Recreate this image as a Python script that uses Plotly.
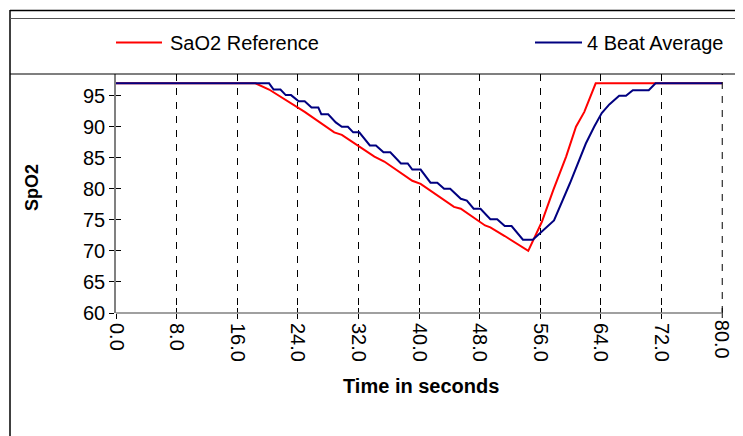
import plotly.graph_objects as go

# ---- data ----
ref_time = [0, 18.4, 20.2, 24.1, 24.9, 28.8, 29.8, 34.1, 35.4, 39.1, 40.2, 44.6, 45.5,
            48.7, 49.4, 51.3, 54.4, 56.2, 57.7, 59.4, 60.7, 61.8, 63.3, 80]
ref_spo2 = [97, 97, 96.0, 93.0, 92.4, 89.1, 88.7, 85.2, 84.4, 81.3, 80.8, 77.1, 76.8,
            74.1, 73.8, 72.4, 70.0, 74.7, 79.8, 85.2, 90.0, 92.4, 97, 97]

avg_time = [0, 20.2, 20.8, 21.7, 22.4, 23.1, 24.1, 24.9, 25.8, 26.7, 27.1, 28.0, 29.0,
            29.8, 30.6, 31.3, 32.1, 33.5, 34.3, 35.3, 36.2, 37.6, 38.5, 39.1, 40.2, 41.5,
            42.4, 43.3, 44.1, 45.5, 46.3, 47.2, 48.1, 49.4, 50.3, 51.3, 52.2, 53.7, 55.0,
            56.4, 57.8, 59.9, 62.0, 63.1, 64.1, 65.1, 66.4, 67.3, 68.2, 70.3, 71.2, 80]
avg_spo2 = [97, 97, 96, 96, 95.1, 95.1, 94.1, 94.1, 93.1, 93.1, 92, 92, 90.7,
            90, 90, 89.1, 89.1, 87, 87, 85.9, 85.9, 84.1, 84.1, 83.1, 83.1, 81,
            81, 80, 80, 78.4, 78.1, 76.8, 76.8, 75.1, 75.1, 74, 74, 71.8, 71.8,
            73.3, 74.9, 80.9, 87.3, 90, 92.2, 93.6, 95, 95, 95.9, 95.9, 97, 97]

series_names = ["SaO2 Reference", "4 Beat Average"]
series_colors = ["#FF0000", "#000080"]
x_ticks = [0, 8, 16, 24, 32, 40, 48, 56, 64, 72, 80]
y_ticks = [60, 65, 70, 75, 80, 85, 90, 95]

# effective drawable width in the viewer is ~735 px
W, H = 735, 436
L, R, T, B = 116, 12, 74, 123
pw, ph = W - L - R, H - T - B
X_RANGE = [0, 80.1]
Y_RANGE = [60, 98.5]


def px(x):
    return (x - L) / pw


def py(y):
    return (H - B - y) / ph


FONT = "Liberation Sans, Arial, sans-serif"
tick_text = [f"{v:.1f}" for v in x_ticks]

fig = go.Figure()
fig.add_trace(go.Scatter(x=ref_time, y=ref_spo2, mode="lines", name=series_names[0],
                         line=dict(color=series_colors[0], width=2)))
fig.add_trace(go.Scatter(x=avg_time, y=avg_spo2, mode="lines", name=series_names[1],
                         line=dict(color=series_colors[1], width=2)))
# invisible trace for inside ticks axes
fig.add_trace(go.Scatter(x=[0, 80], y=[60, 60], mode="lines", xaxis="x2", yaxis="y2",
                         line=dict(width=0), showlegend=False, hoverinfo="skip"))

axis_line = "#808080"
fig.update_layout(
    width=W, height=H, autosize=False,
    margin=dict(l=L, r=R, t=T, b=B),
    paper_bgcolor="white", plot_bgcolor="white",
    showlegend=False,
    font=dict(family=FONT, size=20, color="black"),
    xaxis=dict(range=X_RANGE, tickvals=x_ticks[:-1], ticktext=tick_text[:-1],
               tickangle=90, ticks="outside", ticklen=5, tickcolor="black",
               showline=False,
               showgrid=True, gridcolor="black", gridwidth=1, griddash="7px,7px",
               zeroline=False, tickfont=dict(size=20, family=FONT)),
    yaxis=dict(range=Y_RANGE, tickvals=y_ticks, ticks="outside", ticklen=5,
               tickcolor="black", showline=True, linecolor=axis_line, linewidth=1.5,
               showgrid=False, zeroline=False, tickfont=dict(size=20, family=FONT)),
    xaxis2=dict(range=X_RANGE, overlaying="x", tickvals=x_ticks[:-1], ticks="inside",
                ticklen=5, tickcolor="black", showticklabels=False, showgrid=False,
                zeroline=False, showline=False),
    yaxis2=dict(range=Y_RANGE, overlaying="y", tickvals=y_ticks, ticks="inside",
                ticklen=5, tickcolor="black", showticklabels=False, showgrid=False,
                zeroline=False, showline=False),
)

shapes = []
last = x_ticks[-1]
# last gridline and tick (drawn manually, plotly hides the edge tick)
shapes.append(dict(type="line", xref="x", yref="paper", x0=last, x1=last, y0=0, y1=1,
                   line=dict(color="black", width=1, dash="7px,7px")))
shapes.append(dict(type="line", xref="x", yref="paper", x0=last, x1=last,
                   y0=py(H - B + 5), y1=py(H - B - 5), line=dict(color="black", width=1)))
# x axis line (from 0 to 80 only)
shapes.append(dict(type="line", xref="x", yref="paper", x0=0, x1=last, y0=0, y1=0,
                   line=dict(color=axis_line, width=1.5)))
# outer frame
shapes.append(dict(type="line", xref="paper", yref="paper", x0=px(10), x1=px(W + 20),
                   y0=py(10.5), y1=py(10.5), line=dict(color="black", width=1.5)))
shapes.append(dict(type="line", xref="paper", yref="paper", x0=px(10), x1=px(10),
                   y0=py(10), y1=py(H + 5), line=dict(color="black", width=1.5)))
# legend box
shapes.append(dict(type="line", xref="paper", yref="paper", x0=px(10), x1=px(W + 20),
                   y0=py(18.5), y1=py(18.5), line=dict(color="#555555", width=1)))
shapes.append(dict(type="line", xref="paper", yref="paper", x0=px(10), x1=px(W + 20),
                   y0=py(74), y1=py(74), line=dict(color="black", width=1.2)))
# legend samples
for (x0, x1), col in zip([(116, 162), (535, 582)], series_colors):
    shapes.append(dict(type="line", xref="paper", yref="paper", x0=px(x0), x1=px(x1),
                       y0=py(42.5), y1=py(42.5), line=dict(color=col, width=2)))
fig.update_layout(shapes=shapes)

annotations = [
    dict(text=series_names[0], xref="paper", yref="paper", x=px(168), y=py(42.5),
         xanchor="left", yanchor="middle", showarrow=False, font=dict(size=20, family=FONT)),
    dict(text=series_names[1], xref="paper", yref="paper", x=px(585), y=py(42.5),
         xanchor="left", yanchor="middle", showarrow=False, font=dict(size=20, family=FONT)),
    dict(text="<b>Time in seconds</b>", xref="paper", yref="paper", x=px(421), y=py(386),
         xanchor="center", yanchor="middle", showarrow=False, font=dict(size=20, family=FONT)),
    dict(text="<b>SpO2</b>", xref="paper", yref="paper", x=px(32), y=py(188),
         xanchor="center", yanchor="middle", textangle=-90, showarrow=False,
         font=dict(size=18, family=FONT)),
    dict(text=tick_text[-1], xref="x", yref="paper", x=last, y=py(339),
         xanchor="center", yanchor="middle", textangle=90, showarrow=False,
         font=dict(size=20, family=FONT)),
]
fig.update_layout(annotations=annotations)

post = (
    "document.documentElement.style.overflow='hidden';"
    "document.body.style.margin='0px';document.body.style.overflow='hidden';"
)
fig.write_html("out.html",
               config={"displayModeBar": False, "responsive": False},
               post_script=post)
